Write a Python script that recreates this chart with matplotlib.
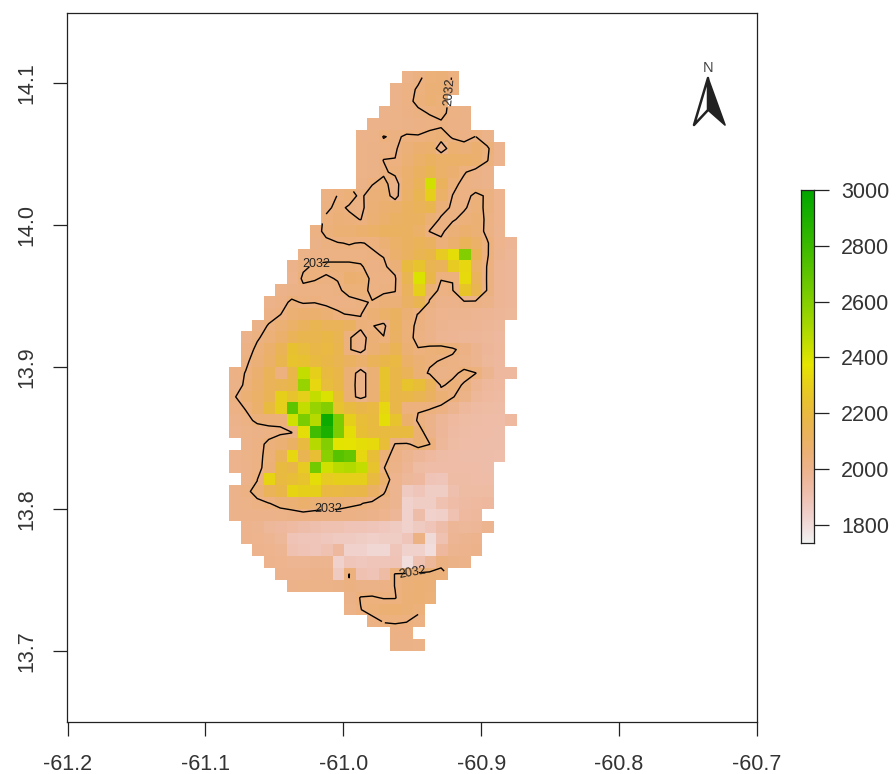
import numpy as np
import matplotlib
matplotlib.use('Agg')
import matplotlib.pyplot as plt
from matplotlib.colors import ListedColormap, hsv_to_rgb
from matplotlib.patches import Polygon

plt.rcParams['font.family'] = ['Liberation Sans', 'DejaVu Sans']

# raster cells, one list per row from north to south
# each row starts at the column in row_start, 0 means no data
row_start = [15, 14, 14, 13, 12, 11, 11, 11, 11, 11, 8, 8, 8, 7, 7, 6, 5, 5, 4, 3, 3, 2, 1, 1, 1,
             0, 0, 0, 0, 0, 0, 0, 0, 0, 0, 0, 0, 0, 1, 1, 2, 3, 4, 5, 10, 10, 12, 14, 14]
grid_rows = [
    [2005, 2025, 2045, 2050, 2030],
    [2000, 2020, 2036, 2055, 2055, 2028],
    [2000, 2022, 2040, 2060, 2045],
    [2000, 2005, 2015, 2025, 2034, 2042, 2020, 2010],
    [2000, 2000, 2005, 2010, 2015, 2020, 2025, 2015, 2010],
    [2000, 2005, 2034, 2025, 2038, 2035, 2045, 2055, 2026, 2018, 2033, 2005],
    [2005, 2010, 2020, 2028, 2050, 2070, 2075, 2000, 2065, 2050, 2070, 2040, 1995],
    [2005, 2012, 2033, 2033, 2060, 2090, 2110, 2090, 2090, 2085, 2075, 2035, 1995],
    [2005, 2012, 2025, 2042, 2075, 2110, 2150, 2090, 2070, 2036, 2015, 2000],
    [2010, 2030, 2045, 2010, 2080, 2130, 2420, 2120, 2045, 2020, 2012, 2000],
    [2020, 2033, 2045, 2025, 2050, 2060, 2010, 2090, 2150, 2300, 2090, 2031, 2020, 2040, 2028, 1990],
    [2025, 2040, 2028, 2022, 2055, 2070, 2080, 2110, 2130, 2160, 2050, 2025, 2028, 2045, 2025, 1990],
    [2038, 2050, 2040, 2031, 2060, 2080, 2100, 2110, 2110, 2060, 2025, 2028, 2042, 2060, 2022, 1990],
    [2020, 2040, 2060, 2060, 2075, 2090, 2110, 2110, 2110, 2090, 2030, 2025, 2050, 2075, 2060, 2020, 1985],
    [2010, 2025, 2030, 2034, 2030, 2036, 2060, 2090, 2110, 2130, 2110, 2040, 2075, 2130, 2090, 2038, 1990, 1975],
    [2005, 2015, 2020, 2020, 2020, 2020, 2028, 2034, 2080, 2110, 2150, 2170, 2280, 2350, 2600, 2140, 2038, 1985, 1970],
    [2000, 2025, 2038, 2040, 2040, 2040, 2036, 2018, 2025, 2050, 2200, 2250, 2150, 2130, 2280, 2330, 2090, 2030, 1975, 1965],
    [1995, 2040, 2034, 2028, 2034, 2070, 2065, 2020, 2020, 2025, 2150, 2400, 2170, 2034, 2036, 2340, 2120, 2028, 1975, 1965],
    [2000, 2010, 2020, 2022, 2020, 2025, 2045, 2048, 2022, 2025, 2030, 2120, 2300, 2060, 2020, 2025, 2260, 2150, 2028, 1975, 1965],
    [2000, 2015, 2040, 2028, 2030, 2020, 2018, 2020, 2028, 2034, 2050, 2050, 2100, 2150, 2025, 2000, 2000, 2010, 2018, 2005, 1975, 1965],
    [2015, 2030, 2060, 2070, 2075, 2060, 2038, 2028, 2030, 2060, 2090, 2110, 2060, 2030, 2005, 1990, 1985, 1985, 1980, 1975, 1970, 1960],
    [2010, 2036, 2060, 2090, 2120, 2150, 2130, 2130, 2110, 2040, 2035, 2015, 2110, 2045, 2025, 2005, 1985, 1980, 1980, 1975, 1970, 1960],
    [2000, 2028, 2045, 2080, 2130, 2160, 2160, 2180, 2150, 2035, 2015, 2050, 2035, 2100, 2045, 2022, 2000, 1980, 1975, 1970, 1965, 1960, 1950],
    [2015, 2040, 2080, 2140, 2240, 2210, 2180, 2190, 2160, 2035, 2015, 2060, 2090, 2140, 2060, 2034, 2045, 2055, 2040, 2015, 1985, 1965, 1955],
    [2025, 2050, 2090, 2160, 2250, 2240, 2200, 2180, 2150, 2110, 2080, 2130, 2170, 2190, 2090, 2060, 2040, 2028, 2020, 2005, 1985, 1960, 1950],
    [2015, 2034, 2070, 2130, 2032, 2170, 2450, 2300, 2200, 2170, 2060, 2010, 2060, 2250, 2170, 2130, 2060, 2025, 2010, 2020, 2045, 2034, 1985, 1950, 1950],
    [2010, 2040, 2080, 2130, 2150, 2170, 2550, 2330, 2210, 2180, 2055, 2010, 2060, 2250, 2170, 2250, 2220, 2130, 2025, 2045, 2028, 1980, 1955, 1945],
    [2028, 2060, 2090, 2140, 2300, 2250, 2300, 2450, 2400, 2230, 2060, 2010, 2060, 2240, 2170, 2180, 2150, 2110, 2060, 2036, 2005, 1960, 1945, 1940],
    [2015, 2034, 2080, 2200, 2300, 2700, 2450, 2550, 2600, 2250, 2200, 2170, 2190, 2330, 2170, 2034, 2036, 2034, 2020, 1985, 1955, 1940, 1935, 1930],
    [2000, 2020, 2040, 2042, 2040, 2420, 2620, 2480, 2950, 2620, 2300, 2220, 2200, 2350, 2250, 2080, 2025, 2000, 1970, 1945, 1935, 1930, 1925, 1925, 1945],
    [1995, 2005, 2010, 2020, 2025, 2028, 2350, 2780, 2900, 2620, 2350, 2230, 2200, 2200, 2200, 2200, 2060, 2000, 1965, 1940, 1930, 1925, 1925, 1920],
    [0, 2000, 2020, 2040, 2060, 2100, 2200, 2480, 2600, 2380, 2370, 2350, 2340, 2220, 2025, 2020, 2060, 2034, 1960, 1935, 1925, 1925, 1920, 1920],
    [1995, 2005, 2020, 2045, 2130, 2330, 2150, 2230, 2580, 2720, 2680, 2330, 2220, 2050, 2015, 1985, 1965, 1945, 1930, 1925, 1920, 1920, 1920, 1915],
    [1995, 2000, 2020, 2050, 2200, 2170, 2280, 2640, 2420, 2470, 2490, 2450, 2250, 2034, 2005, 1975, 1935, 1925, 1925, 1925, 1925, 1925, 1920],
    [0, 2000, 2030, 2320, 2200, 2220, 2250, 2350, 2280, 2300, 2300, 2300, 2200, 2080, 1990, 1960, 1950, 1890, 1880, 1930, 1930, 1925, 1925],
    [2000, 2020, 2050, 2130, 2170, 2320, 2300, 2300, 2190, 2190, 2180, 2170, 2100, 2040, 1985, 1860, 1880, 1850, 1850, 1910, 1935, 1935, 1935],
    [2000, 2005, 2020, 2030, 2050, 2060, 2080, 2060, 2050, 2050, 2040, 2035, 2020, 2005, 1985, 1830, 1850, 1850, 1900, 1925, 1940, 1945, 1950],
    [2000, 2000, 2000, 2000, 2005, 2010, 2015, 2015, 2015, 2015, 2015, 2010, 2000, 1990, 1970, 1830, 1920, 1830, 1840, 1900, 1945, 1955],
    [1995, 1985, 1960, 1950, 1940, 1920, 1910, 1900, 1900, 1890, 1885, 1880, 1870, 1860, 1830, 1860, 1880, 1920, 1970, 1960, 1970, 1985],
    [1995, 1990, 1980, 1960, 1890, 1880, 1880, 1870, 1860, 1860, 1850, 1840, 1850, 1850, 1880, 2020, 1800, 1900, 1975, 1985, 1995],
    [1995, 1990, 1980, 1900, 1890, 1880, 1900, 1950, 1830, 1830, 1810, 1810, 1880, 1830, 1830, 1790, 1950, 1985, 1995, 2000],
    [1995, 1990, 1980, 1980, 1985, 1985, 1830, 1880, 1870, 1880, 1880, 1890, 1790, 1900, 1960, 2025, 2010, 2000],
    [1995, 1995, 1995, 2000, 2000, 1860, 2035, 1900, 1890, 1930, 2038, 2050, 2050, 2050, 2040],
    [2000, 2005, 2005, 2005, 2010, 2025, 2010, 2010, 2015, 2033, 2050, 2060, 2050],
    [2010, 2034, 2036, 2030, 2030, 2055, 2060, 2045],
    [2005, 2031, 2045, 2060, 2065, 2055, 2040],
    [2020, 2034, 2036, 2033, 2020],
    [2015, 2015, 0],
    [2010, 2010, 2005],
]

contour_level = [2032]
label_spots = [(-60.925, 14.092), (-61.02, 13.973), (-61.011, 13.799), (-60.950, 13.757)]
label_angles = [85, 0, 0, 10]
x_ticks = [-61.2, -61.1, -61.0, -60.9, -60.8, -60.7]
y_ticks = [13.7, 13.8, 13.9, 14.0, 14.1]
bar_ticks = [1800, 2000, 2200, 2400, 2600, 2800, 3000]
vmin, vmax = 1735, 3002

W, H = 896, 774
cell = 1 / 120


def px_rect(left, top, right, bottom):
    return [left / W, 1 - bottom / H, (right - left) / W, (bottom - top) / H]


# same ramp as R's rev(terrain.colors(255))
n_low = 128
h = np.r_[np.linspace(4 / 12, 2 / 12, 127), np.linspace(2 / 12, 0, n_low + 1)[1:]]
s = np.r_[np.ones(127), np.linspace(1, 0, n_low + 1)[1:]]
v = np.r_[np.linspace(0.65, 0.9, 127), np.linspace(0.9, 0.95, n_low + 1)[1:]]
terrain = ListedColormap(hsv_to_rgb(np.c_[h, s, v])[::-1])
terrain.set_bad((1, 1, 1, 0))

grid = np.full((49, 25), np.nan)
for r, (start, vals) in enumerate(zip(row_start, grid_rows)):
    grid[r, start:start + len(vals)] = vals
grid[grid == 0] = np.nan

x0, y0 = -61.0833, 14.1083
xs = x0 + cell * (np.arange(25) + 0.5)
ys = y0 - cell * (np.arange(49) + 0.5)

fig = plt.figure(figsize=(W / 100, H / 100), dpi=100)
ax = fig.add_axes(px_rect(66.5, 12.5, 757, 722))
ax.imshow(grid, cmap=terrain, vmin=vmin, vmax=vmax, interpolation='nearest', aspect='auto',
          extent=[x0, x0 + 25 * cell, y0 - 49 * cell, y0], zorder=1)
cs = ax.contour(xs, ys, np.ma.masked_invalid(grid), levels=contour_level, colors='black',
                linewidths=1.0, zorder=2)
labels = ax.clabel(cs, fmt='%d', fontsize=9, inline=True, inline_spacing=2, manual=label_spots,
                   colors='#222222')
for t, a in zip(labels, label_angles):
    t.set_rotation(a)
ax.set_xlim(-61.2008, -60.7)
ax.set_ylim(13.65, 14.15)
ax.set_xticks(x_ticks)
ax.set_xticklabels(['%.1f' % t for t in x_ticks])
ax.set_yticks(y_ticks)
ax.set_yticklabels(['%.1f' % t for t in y_ticks], rotation=90, va='center')
ax.tick_params(axis='x', length=10, width=0.9, pad=13, labelsize=15.5, labelcolor='#333333', color='#222222')
ax.tick_params(axis='y', length=10, width=0.9, pad=11, labelsize=15.5, labelcolor='#333333', color='#222222')
for sp in ax.spines.values():
    sp.set_linewidth(0.9)
    sp.set_color('#222222')

# north arrow, drawn in a full-figure overlay
over = fig.add_axes([0, 0, 1, 1])
over.set_xlim(0, W)
over.set_ylim(H, 0)
over.axis('off')
over.patch.set_alpha(0)
over.add_patch(Polygon([(708, 78), (694, 125), (708, 110)], closed=True, facecolor='white',
                       edgecolor='#222222', linewidth=1.8, joinstyle='round'))
over.add_patch(Polygon([(708, 78), (725, 125), (708, 110)], closed=True, facecolor='#222222',
                       edgecolor='#222222', linewidth=1.2, joinstyle='round'))
over.text(708, 68, 'N', ha='center', va='center', fontsize=10.5, color='#444444')

# legend bar
cax = fig.add_axes(px_rect(801, 189.5, 814, 543))
ramp = np.linspace(vmax, vmin, 255).reshape(-1, 1)
cax.imshow(ramp, cmap=terrain, vmin=vmin, vmax=vmax, aspect='auto', extent=[0, 1, vmin, vmax])
cax.set_xticks([])
cax.yaxis.tick_right()
cax.set_yticks(bar_ticks)
cax.tick_params(axis='y', length=10.5, width=0.9, pad=9, labelsize=15.5, labelcolor='#333333', color='#222222')
for sp in cax.spines.values():
    sp.set_linewidth(0.9)
    sp.set_color('#222222')

fig.savefig('out.png', dpi=100)
